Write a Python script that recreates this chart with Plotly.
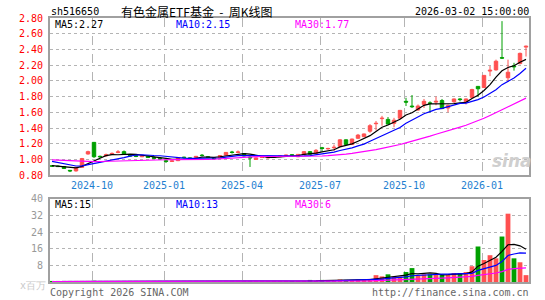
import pandas as pd
import plotly.graph_objects as go

# ---------------- data (weekly K-line) ----------------
dates = [
    "2024-08-23", "2024-08-30", "2024-09-06", "2024-09-13", "2024-09-20", "2024-09-27",
    "2024-09-30", "2024-10-11", "2024-10-18", "2024-10-25", "2024-11-01", "2024-11-08",
    "2024-11-15", "2024-11-22", "2024-11-29", "2024-12-06", "2024-12-13", "2024-12-20",
    "2024-12-27", "2025-01-03", "2025-01-10", "2025-01-17", "2025-01-24", "2025-01-27",
    "2025-02-07", "2025-02-14", "2025-02-21", "2025-02-28", "2025-03-07", "2025-03-14",
    "2025-03-21", "2025-03-28", "2025-04-03", "2025-04-11", "2025-04-18", "2025-04-25",
    "2025-04-30", "2025-05-09", "2025-05-16", "2025-05-23", "2025-05-30", "2025-06-06",
    "2025-06-13", "2025-06-20", "2025-06-27", "2025-07-04", "2025-07-11", "2025-07-18",
    "2025-07-25", "2025-08-01", "2025-08-08", "2025-08-15", "2025-08-22", "2025-08-29",
    "2025-09-05", "2025-09-12", "2025-09-19", "2025-09-26", "2025-09-30", "2025-10-10",
    "2025-10-17", "2025-10-24", "2025-10-31", "2025-11-07", "2025-11-14", "2025-11-21",
    "2025-11-28", "2025-12-05", "2025-12-12", "2025-12-19", "2025-12-26", "2025-12-31",
    "2026-01-09", "2026-01-16", "2026-01-23", "2026-01-30", "2026-02-06", "2026-02-13",
    "2026-02-27", "2026-03-02",
]

open_ = [0.920, 0.915, 0.910, 0.862, 0.855, 0.900, 1.070, 1.218, 1.040, 1.045,
         1.065, 1.090, 1.100, 1.050, 1.048, 1.035, 1.045, 1.025, 1.015, 0.985,
         0.975, 0.985, 1.030, 1.020, 1.025, 1.055, 1.035, 1.020, 1.020, 1.055,
         1.095, 1.090, 1.075, 1.030, 1.000, 1.025, 1.020, 1.030, 1.035, 1.050,
         1.060, 1.035, 1.067, 1.100, 1.075, 1.150, 1.135, 1.150, 1.167, 1.250,
         1.190, 1.270, 1.290, 1.360, 1.455, 1.520, 1.510, 1.460, 1.525, 1.740,
         1.680, 1.630, 1.700, 1.720, 1.730, 1.750, 1.655, 1.735, 1.770, 1.730,
         1.790, 1.930, 1.915, 2.125, 2.140, 2.295, 2.040, 2.190, 2.220, 2.430]
high = [0.925, 0.925, 0.915, 0.866, 0.905, 1.020, 1.112, 1.222, 1.050, 1.075,
        1.090, 1.120, 1.115, 1.060, 1.055, 1.050, 1.050, 1.040, 1.030, 0.995,
        0.990, 1.020, 1.035, 1.025, 1.045, 1.070, 1.040, 1.025, 1.055, 1.095,
        1.110, 1.115, 1.080, 1.045, 1.025, 1.035, 1.030, 1.040, 1.050, 1.060,
        1.065, 1.070, 1.105, 1.105, 1.133, 1.160, 1.150, 1.190, 1.260, 1.255,
        1.265, 1.325, 1.330, 1.450, 1.490, 1.555, 1.540, 1.530, 1.630, 1.785,
        1.820, 1.700, 1.770, 1.740, 1.800, 1.770, 1.700, 1.775, 1.780, 1.775,
        1.900, 1.935, 2.075, 2.190, 2.270, 2.760, 2.270, 2.230, 2.360, 2.450]
low = [0.905, 0.905, 0.880, 0.840, 0.845, 0.895, 1.062, 1.020, 1.020, 1.040,
       1.060, 1.080, 1.060, 1.035, 1.030, 1.030, 1.020, 1.005, 1.000, 0.955,
       0.970, 0.980, 1.015, 1.005, 1.020, 1.040, 1.020, 1.005, 1.015, 1.050,
       1.075, 1.080, 1.040, 0.905, 0.995, 1.020, 1.015, 1.025, 1.030, 1.045,
       1.045, 1.030, 1.060, 1.060, 1.070, 1.100, 1.125, 1.110, 1.160, 1.185,
       1.185, 1.260, 1.285, 1.340, 1.370, 1.430, 1.445, 1.410, 1.520, 1.680,
       1.655, 1.620, 1.655, 1.600, 1.690, 1.640, 1.600, 1.720, 1.740, 1.700,
       1.780, 1.800, 1.910, 2.060, 2.130, 2.280, 1.990, 2.130, 2.210, 2.310]
close = [0.915, 0.910, 0.885, 0.855, 0.900, 1.012, 1.100, 1.035, 1.035, 1.060,
         1.077, 1.096, 1.068, 1.045, 1.040, 1.045, 1.025, 1.015, 1.008, 0.975,
         0.982, 1.015, 1.025, 1.015, 1.040, 1.050, 1.025, 1.010, 1.050, 1.090,
         1.090, 1.095, 1.045, 1.020, 1.020, 1.030, 1.025, 1.035, 1.045, 1.055,
         1.055, 1.065, 1.100, 1.067, 1.117, 1.140, 1.140, 1.155, 1.250, 1.190,
         1.260, 1.310, 1.325, 1.430, 1.460, 1.525, 1.450, 1.500, 1.625, 1.730,
         1.672, 1.680, 1.740, 1.715, 1.740, 1.648, 1.685, 1.770, 1.762, 1.770,
         1.890, 1.900, 2.070, 2.135, 2.250, 2.290, 2.110, 2.180, 2.350, 2.440]
# volume in millions (x百万)
volume = [0.25, 0.20, 0.30, 0.25, 0.30, 0.50, 0.45, 0.60, 0.35, 0.30,
          0.30, 0.35, 0.30, 0.25, 0.20, 0.20, 0.20, 0.20, 0.20, 0.25,
          0.20, 0.20, 0.20, 0.15, 0.20, 0.25, 0.20, 0.20, 0.20, 0.30,
          0.30, 0.25, 0.25, 0.40, 0.25, 0.20, 0.20, 0.20, 0.25, 0.30,
          0.30, 0.35, 0.50, 1.00, 0.60, 1.00, 0.70, 0.80, 1.20, 1.00,
          1.00, 1.10, 1.00, 1.50, 3.30, 2.70, 3.70, 2.60, 2.60, 4.80,
          6.70, 3.00, 3.70, 3.70, 3.50, 3.50, 3.40, 4.30, 4.30, 4.80,
          7.60, 17.1, 10.6, 12.9, 11.4, 21.9, 32.9, 11.4, 9.50, 3.30]

# weeks before the visible window (only feed the moving averages)
prev_close = [1.00, 1.02, 1.05, 1.08, 1.10, 1.06, 1.03, 1.00, 0.98, 0.97,
              0.99, 1.01, 0.98, 0.96, 0.95, 0.97, 0.99, 1.00, 0.98, 0.96,
              1.04, 1.05, 1.03, 1.02, 1.01, 0.95, 0.93, 0.92, 0.90]
prev_volume = [0.20, 0.25, 0.20, 0.15, 0.20, 0.25, 0.20, 0.20, 0.15, 0.20,
               0.20, 0.25, 0.20, 0.20, 0.15, 0.20, 0.20, 0.25, 0.20, 0.20,
               0.15, 0.20, 0.20, 0.25, 0.20, 0.20, 0.20, 0.25, 0.20]

price_ticks = [0.8, 1.0, 1.2, 1.4, 1.6, 1.8, 2.0, 2.2, 2.4, 2.6, 2.8]
vol_ticks = [0, 8, 16, 24, 32, 40]
vol_tick_text = ["", "8", "16", "24", "32", "40"]
vol_unit = "x百万"
main_ma_text = ["MA5:2.27", "MA10:2.15", "MA30:1.77"]
vol_ma_text = ["MA5:15", "MA10:13", "MA30:6"]
ma_periods = [5, 10, 30]
ma_colors = ["#000000", "#0000ff", "#ff00ff"]

title_code = "sh516650"
title_name = "有色金属ETF基金&nbsp;&nbsp;-&nbsp;&nbsp;周K线图"
stamp = "2026-03-02 15:00:00"
footer_left = "Copyright 2026 SINA.COM"
footer_right = "http://finance.sina.com.cn"

# ---------------- derived ----------------
n = len(dates)
idx = list(range(n))
d = pd.to_datetime(pd.Series(dates))
tick_idx = [i for i in range(1, n)
            if d[i].month != d[i - 1].month and d[i].month in (1, 4, 7, 10)]
tick_pos = [i - 0.33 for i in tick_idx]
tick_txt = [d[i].strftime("%Y-%m") for i in tick_idx]

c_all = pd.Series(prev_close + close)
v_all = pd.Series(prev_volume + volume)
np_ = len(prev_close)

RED = "#ff5050"
GREEN = "#00a000"
MONO = "DejaVu Sans Mono"

fig = go.Figure()

fig.add_trace(go.Candlestick(
    x=idx, open=open_, high=high, low=low, close=close,
    increasing=dict(line=dict(color=RED, width=1), fillcolor=RED),
    decreasing=dict(line=dict(color=GREEN, width=1), fillcolor=GREEN),
    whiskerwidth=0, showlegend=False, xaxis="x", yaxis="y", hoverinfo="skip"))

for p, col in zip(ma_periods, ma_colors):
    fig.add_trace(go.Scatter(
        x=idx, y=c_all.rolling(p).mean().iloc[np_:].values, mode="lines",
        line=dict(color=col, width=1.2), showlegend=False,
        xaxis="x", yaxis="y", hoverinfo="skip"))

bar_colors = [RED if c >= o else GREEN for o, c in zip(open_, close)]
fig.add_trace(go.Bar(
    x=idx, y=volume, marker=dict(color=bar_colors, line=dict(width=0)),
    width=0.8, showlegend=False, xaxis="x2", yaxis="y2", hoverinfo="skip"))

for p, col in zip(ma_periods, ma_colors):
    fig.add_trace(go.Scatter(
        x=idx, y=v_all.rolling(p).mean().iloc[np_:].values, mode="lines",
        line=dict(color=col, width=1.2), showlegend=False,
        xaxis="x2", yaxis="y2", hoverinfo="skip"))

W, H = 545, 300
L, R, T, B = 50, 16, 18, 15
PW, PH = W - L - R, H - T - B


def px(x):
    return (x - L) / PW


def py(y):
    return (H - B - y) / PH


axis_common = dict(showline=True, mirror=True, linecolor="#a0a0a0", linewidth=2,
                   zeroline=False, ticks="")
xr = [-1 / 3, n - 0.5]

fig.update_layout(
    width=W, height=H, margin=dict(l=L, r=R, t=T, b=B, pad=0),
    paper_bgcolor="white", plot_bgcolor="white", boxgap=0.18,
    font=dict(family=MONO, size=10, color="#000"),
    xaxis=dict(domain=[0, 1], anchor="y", range=xr, tickmode="array",
               tickvals=tick_pos, ticktext=tick_txt,
               tickfont=dict(family=MONO, size=10, color="#1f7fd0"),
               showgrid=True, gridcolor="#b4b4b4", griddash="dash", gridwidth=1,
               rangeslider=dict(visible=False), **axis_common),
    yaxis=dict(domain=[(H - B - 177) / PH, 1], anchor="x", range=[0.8, 2.8],
               tickmode="array", tickvals=price_ticks,
               ticktext=[f"{v:.2f}" for v in price_ticks],
               tickfont=dict(family=MONO, size=10, color="#ff0000"),
               showgrid=True, gridcolor="#b4b4b4", griddash="dot", gridwidth=1,
               ticklabelstandoff=3, **axis_common),
    xaxis2=dict(domain=[0, 1], anchor="y2", range=xr, tickmode="array",
                tickvals=tick_pos, showticklabels=False,
                showgrid=True, gridcolor="#b4b4b4", griddash="dash", gridwidth=1,
                rangeslider=dict(visible=False), **axis_common),
    yaxis2=dict(domain=[0, (H - B - 201) / PH], anchor="x2", range=[0, 40],
                tickmode="array", tickvals=vol_ticks, ticktext=vol_tick_text,
                tickfont=dict(family=MONO, size=10, color="#999999"),
                showgrid=True, gridcolor="#b4b4b4", griddash="dot", gridwidth=1,
                ticklabelstandoff=3, **axis_common),
)

ann = []


def text(x, y, s, color="#000", size=10, family=MONO, xanchor="left", **kw):
    ann.append(dict(x=px(x), y=py(y), xref="paper", yref="paper", text=s,
                    showarrow=False, xanchor=xanchor, yanchor="middle",
                    font=dict(family=family, size=size, color=color),
                    borderpad=0, **kw))


text(50, 11, title_code)
text(120, 11, title_name, size=12, family="Noto Sans CJK SC")
text(530, 11, stamp, xanchor="right")
xs = [54, 175, 294]
for x, s, col in zip(xs, main_ma_text, ma_colors):
    text(x, 25, s, color=col)
for x, s, col in zip(xs, vol_ma_text, ma_colors):
    text(x, 207, s, color=col)
text(47, 289, vol_unit, color="#c8c8c8", xanchor="right")
text(49, 296, footer_left, color="#666666")
text(530, 296, footer_right, color="#666666", xanchor="right")
text(512, 163, "<b><i>sina</i></b>", color="#cfcfcf", size=17, family="DejaVu Sans",
     xanchor="center")

fig.update_layout(annotations=ann)
fig.write_html("out.html")
